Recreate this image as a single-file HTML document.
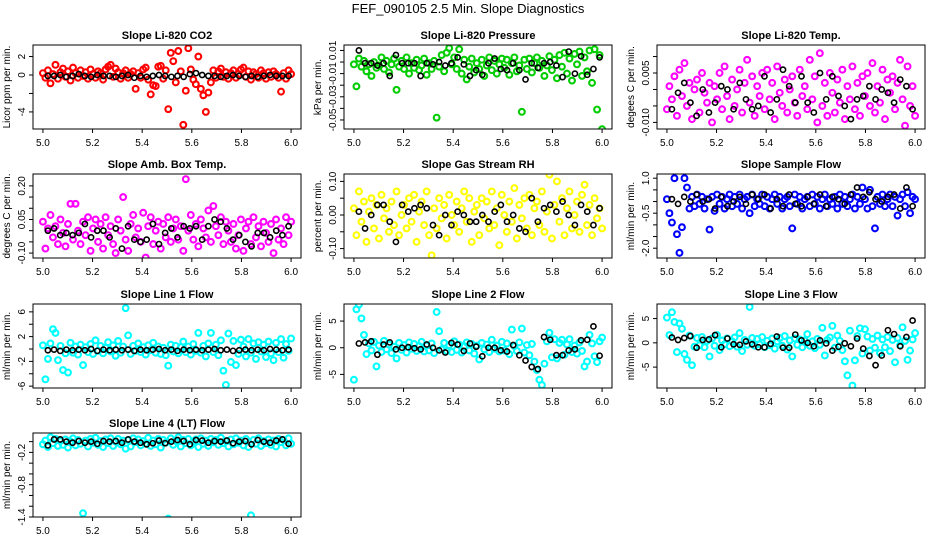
<!DOCTYPE html>
<html><head><meta charset="utf-8"><style>
body{margin:0;background:#fff}
svg{display:block;font-family:"Liberation Sans",sans-serif}
</style></head><body>
<svg id="c" width="936" height="540" viewBox="0 0 936 540">
<rect width="936" height="540" fill="#fff"/>
<text x="468" y="13" text-anchor="middle" font-size="13">FEF_090105  2.5 Min. Slope Diagnostics</text>
</svg>
<script>
const xTicks = [5.0, 5.2, 5.4, 5.6, 5.8, 6.0];
const xTickLabels = ["5.0","5.2","5.4","5.6","5.8","6.0"];

const titles = ["Slope Li-820 CO2","Slope Li-820 Pressure","Slope Li-820 Temp.","Slope Amb. Box Temp.","Slope Gas Stream RH","Slope Sample Flow","Slope Line 1 Flow","Slope Line 2 Flow","Slope Line 3 Flow","Slope Line 4 (LT) Flow"];
const yTitles = ["Licor ppm per min.","kPa per min.","degees C per min.","degrees C per min.","percent per min.","ml/min per min.","ml/min per min.","ml/min per min.","ml/min per min.","ml/min per min."];
const colors = ["#ff0000","#00cd00","#ff00ff","#ff00ff","#ffff00","#0000ff","#00ffff","#00ffff","#00ffff","#00ffff"];
const yLims = [[-5.85,3.25],[-0.0578,0.0147],[-0.012,0.0135],[-0.122,0.253],[-0.128,0.122],[-2.42,1.18],[-6.3,7.27],[-7.55,8.2],[-9.3,8.0],[-1.40,0.16]];
const yTicks = [[-4,-2,0,2],[-0.05,-0.04,-0.03,-0.02,-0.01,0,0.01],[-0.01,-0.005,0,0.005,0.01],[-0.1,-0.05,0,0.05,0.1,0.15,0.2],[-0.1,-0.05,0,0.05,0.1],[-2,-1.5,-1,-0.5,0,0.5,1],[-6,-4,-2,0,2,4,6],[-5,0,5],[-5,0,5],[-1.4,-1.2,-1.0,-0.8,-0.6,-0.4,-0.2,0]];
const yTickLabels = [["-4","","0","2"],["-0.05","","-0.03","","-0.01","","0.01"],["-0.010","","","0.005",""],["-0.10","","","0.05","","","0.20"],["-0.10","","0.00","","0.10"],["-2.0","","","-0.5","","","1.0"],["-6","","-2","","2","","6"],["-5","0","5"],["-5","0","5"],["-1.4","","","-0.8","","","-0.2",""]];

const colored = [
"0.2 -0.3 0.5 -0.9 0.1 1.1 -0.4 0.3 0.7 -0.2 0.4 -0.6 0.8 0.2 -0.3 0.5 -0.1 0.3 -0.4 0.6 0.1 -0.3 0.4 0.2 -0.5 0.6 0.9 1.1 -0.2 0.7 0.3 -0.4 0.2 0.5 -0.3 0.1 0.4 -1.5 0.2 -0.3 0.6 0.8 -0.5 -2.1 -1.1 -1.2 0.9 1.0 -0.4 0.5 -3.7 2.4 1.5 -0.8 2.6 0.4 -5.4 -1.7 2.9 0.6 -0.5 -1.0 2.0 -1.5 -2.2 -4.0 -1.9 -0.8 0.5 -0.3 0.4 0.7 -0.2 0.3 -0.4 0.2 0.5 -0.3 0.1 0.6 0.8 -0.2 0.4 -0.5 0.3 0.1 -0.3 0.5 0.2 -0.4 0.3 -0.2 0.4 0.1 -0.3 -1.8 0.2 -0.4 0.5 0.1",
"-0.002 -0.021 0.003 -0.004 0.001 -0.008 -0.002 -0.012 0.000 -0.005 -0.003 0.004 -0.006 0.001 -0.009 -0.002 0.003 -0.024 -0.004 0.001 -0.006 0.004 -0.010 -0.001 -0.005 0.002 -0.007 -0.003 0.003 -0.011 -0.001 -0.006 0.001 -0.048 -0.004 0.006 -0.008 0.008 0.012 -0.002 0.004 -0.006 0.011 -0.010 0.002 -0.015 -0.004 0.003 -0.009 -0.001 -0.006 0.002 -0.012 -0.003 0.004 -0.007 0.001 -0.010 -0.002 0.003 -0.005 0.002 -0.011 -0.001 0.004 -0.008 -0.003 -0.043 0.002 -0.006 0.003 -0.009 -0.001 0.004 -0.005 0.001 -0.012 -0.003 0.005 -0.007 0.002 -0.014 0.006 -0.004 0.008 -0.010 0.003 -0.016 0.007 -0.002 0.009 -0.012 0.004 -0.008 0.010 -0.018 0.011 -0.041 0.006 -0.058",
"-0.006 0.001 -0.003 0.004 -0.008 0.006 -0.002 0.008 -0.005 0.002 -0.009 0.000 0.003 -0.007 0.005 -0.001 -0.004 0.002 -0.010 0.001 -0.003 0.005 -0.006 0.007 -0.002 -0.009 0.003 -0.005 0.000 0.006 -0.007 0.002 0.009 -0.004 0.004 -0.008 0.001 -0.002 0.005 -0.006 0.006 -0.003 0.002 -0.009 0.007 -0.001 -0.005 0.003 -0.007 0.000 0.004 -0.004 -0.008 0.006 -0.002 0.001 -0.006 0.009 -0.003 0.004 -0.010 0.011 -0.005 0.002 -0.008 0.005 -0.001 -0.007 0.003 -0.004 0.006 -0.009 0.001 -0.003 0.007 -0.006 0.002 -0.008 0.004 -0.002 0.005 -0.005 0.008 -0.007 0.001 -0.004 0.006 -0.009 0.003 -0.001 0.004 -0.006 0.002 0.009 -0.003 -0.011 0.007 -0.005 0.001 -0.008",
"0.04 -0.08 0.01 0.07 -0.03 0.02 -0.06 0.05 -0.01 -0.07 0.03 0.12 -0.04 0.12 0.00 -0.06 0.04 -0.02 0.06 -0.09 0.01 0.05 -0.05 0.03 -0.08 0.06 -0.02 0.02 -0.06 -0.10 0.05 0.00 0.15 -0.04 -0.09 0.03 0.07 -0.03 0.01 -0.05 0.08 -0.12 0.02 0.06 -0.06 0.00 0.04 -0.08 0.03 -0.03 0.06 -0.05 0.01 0.05 -0.04 0.02 -0.09 0.23 0.00 0.07 -0.04 0.03 -0.07 0.05 0.01 -0.03 0.09 -0.05 0.11 0.02 -0.02 0.06 -0.06 0.04 0.00 -0.05 0.03 -0.08 -0.02 0.05 -0.09 0.01 0.04 -0.06 0.06 -0.03 0.02 -0.07 0.04 -0.01 -0.05 0.03 -0.10 0.05 -0.04 0.01 -0.06 0.06 -0.02 0.04",
"0.02 -0.06 0.07 -0.02 0.04 -0.08 0.01 0.05 -0.04 0.03 -0.07 0.06 -0.01 0.02 -0.05 0.04 -0.03 0.07 -0.06 0.00 0.03 -0.04 0.05 -0.02 0.06 -0.08 0.01 0.04 -0.03 0.07 -0.06 -0.12 0.02 -0.04 0.05 -0.01 0.03 -0.07 0.06 0.00 -0.03 0.04 -0.05 0.02 0.07 -0.02 0.05 -0.08 0.01 0.03 -0.06 0.05 -0.01 0.04 -0.04 0.07 -0.03 0.02 -0.09 0.06 0.00 -0.05 0.04 -0.02 0.08 -0.07 0.03 -0.01 0.05 -0.04 0.06 -0.06 0.02 0.04 -0.03 0.07 -0.05 0.01 0.12 -0.07 0.03 0.10 -0.02 0.05 -0.06 0.02 0.07 -0.04 0.00 0.04 -0.05 0.06 0.09 -0.03 0.03 -0.06 0.05 -0.01 0.02 -0.04",
"0.1 -0.5 -0.9 1.0 -1.4 -2.2 -1.1 1.0 0.6 -0.3 0.2 -0.2 0.3 -0.1 0.2 -0.3 0.1 -1.2 0.2 -0.4 0.3 -0.1 0.2 -0.3 0.1 0.3 -0.2 0.2 -0.1 0.3 -0.3 0.1 0.2 -0.5 0.3 -0.2 0.1 -0.1 0.3 -0.2 0.2 -0.3 0.1 0.3 -0.1 0.2 -0.3 0.1 0.2 -0.2 -1.15 0.3 -0.1 0.2 -0.3 0.1 0.2 -0.2 0.3 -0.1 0.2 -0.3 0.1 0.3 -0.2 0.1 -0.1 0.2 -0.3 0.3 -0.1 0.2 -0.2 0.1 0.3 -0.3 0.2 -0.1 0.6 0.1 -0.3 0.5 -0.2 -1.15 0.2 -0.1 0.3 -0.2 0.1 0.3 -0.2 0.2 -0.6 0.1 0.3 -0.2 0.4 -0.5 0.2 0.1",
"0.6 -4.9 -1.6 0.9 3.2 2.6 -1.8 0.5 -3.4 -0.7 -3.8 1.0 -0.6 0.4 -0.9 0.7 -2.6 0.3 -0.5 0.8 -0.8 1.4 -0.3 0.5 -0.7 0.2 1.1 -0.4 0.6 -1.1 1.3 -0.6 0.4 6.6 2.2 -0.8 0.5 -0.3 0.9 -0.5 0.3 -0.9 0.6 -0.2 1.0 -0.6 0.4 -0.8 0.2 -1.0 -2.7 0.7 -0.4 0.5 -0.7 0.3 1.2 -0.5 0.4 -0.9 0.8 -0.3 2.6 -0.6 0.5 -1.2 0.9 2.6 -0.5 0.7 -1.0 1.4 -3.5 -5.8 2.5 -2.1 1.3 -2.6 -0.8 1.5 0.4 -1.2 1.6 -0.6 0.9 -1.6 1.1 -0.4 0.7 -1.3 1.2 -0.7 -1.8 1.0 -0.5 1.6 -1.4 0.8 -0.3 1.7",
"-6.0 7.2 8.1 5.5 2.4 -1.2 0.8 -0.5 1.1 -3.5 0.4 -0.8 1.3 -0.3 0.6 -1.0 0.2 -2.0 0.9 -0.4 0.5 -0.9 1.0 -0.2 0.7 -0.6 0.3 1.1 -0.7 0.4 -0.5 0.8 -1.0 6.7 3.1 -0.3 0.9 -0.6 0.5 -0.8 1.2 -0.4 0.6 -0.9 0.3 1.0 -0.5 0.7 -1.1 0.4 -2.2 0.9 -0.3 0.6 -0.8 1.5 -0.2 0.4 -0.7 1.1 -0.5 0.8 -1.2 3.4 0.3 -0.6 1.0 3.6 -0.9 0.5 -1.4 0.7 -2.6 -4.2 -6.0 -7.0 -3.0 1.2 2.8 -1.8 1.6 -2.0 0.9 1.5 -1.3 0.6 1.6 -0.8 0.4 -1.1 1.0 -0.6 -3.5 -2.6 2.4 0.8 -1.6 -2.7 1.2 1.9",
"5.2 1.6 6.3 4.3 -1.9 4.0 2.9 -2.3 -3.5 1.5 -4.6 -0.8 1.0 -0.5 1.2 -0.9 0.4 -2.8 0.9 -0.6 1.6 -1.5 0.5 -0.3 0.9 -0.7 0.3 1.1 -0.8 2.0 -1.7 0.6 -0.4 7.4 1.0 -0.6 0.8 -0.3 1.2 -0.9 0.4 -0.5 0.9 -1.2 0.3 1.0 -0.6 1.4 -1.4 0.5 -2.8 0.9 -0.4 0.7 -0.9 0.5 1.8 -0.6 0.3 -1.1 0.8 -0.4 3.1 -2.6 0.6 1.1 3.5 -1.0 1.5 0.4 -1.5 -3.8 -6.7 2.5 -8.8 -3.6 1.4 3.0 -2.2 2.8 1.3 -1.6 0.8 -1.0 1.5 -2.1 0.7 -0.9 1.2 -1.7 0.6 -4.0 1.0 -0.5 3.2 0.4 -3.5 -1.6 0.7 2.0",
"-0.05 0.02 -0.10 0.08 -0.03 0.05 -0.08 0.01 -0.06 0.04 -0.11 0.00 0.06 -0.07 0.03 -0.04 -1.33 0.02 -0.09 0.05 -0.02 0.07 -0.06 0.01 -0.10 0.04 -0.03 0.06 -0.08 0.00 0.05 -0.05 0.02 -0.13 0.03 -0.09 0.06 -0.01 0.04 -0.07 0.01 -0.04 0.07 -0.08 0.02 -0.05 0.05 -0.11 0.03 -0.02 -1.43 0.06 -0.06 0.01 0.08 -0.09 0.03 -0.03 0.05 -0.07 0.00 0.04 -0.10 0.06 -0.04 0.02 -0.08 0.05 -0.01 0.03 -0.06 0.07 -0.03 0.01 -0.09 0.04 -0.05 0.06 -0.02 0.02 -0.07 0.05 -0.10 -1.37 0.03 -0.04 0.06 -0.08 0.01 -0.03 0.04 -0.06 0.02 -0.09 0.05 -0.01 0.03 -0.07 0.06 -0.04"
];
const black = [
"-0.1 -0.1 0.0 -0.2 -0.1 0.1 -0.1 -0.2 0.0 -0.1 -0.1 -0.2 -0.1 0.0 -0.3 -0.1 -0.2 -0.1 0.0 -0.1 -0.2 -0.1 -0.2 0.1 0.2 0.0 -0.1 -0.1 -0.2 -0.1 0.0 -0.1 -0.2 -0.1 -0.2 -0.1 0.0 -0.1 -0.1 -0.1",
"0.010 -0.001 -0.001 -0.003 -0.001 -0.012 0.006 -0.001 -0.001 -0.001 -0.012 -0.001 -0.002 0.000 -0.003 -0.001 0.004 -0.002 -0.012 -0.007 -0.011 -0.001 0.003 -0.006 -0.007 -0.001 -0.007 -0.015 -0.001 -0.005 -0.001 0.000 -0.003 -0.013 0.009 -0.010 0.005 -0.011 -0.006 0.004",
"-0.006 -0.001 0.002 -0.004 -0.008 0.000 -0.007 -0.004 0.001 0.000 -0.006 0.002 -0.003 -0.006 -0.005 0.004 -0.007 -0.003 0.006 0.001 -0.004 0.004 -0.004 -0.007 0.005 -0.003 0.004 -0.002 -0.005 -0.009 -0.003 -0.002 0.001 -0.003 0.000 -0.001 -0.004 0.003 0.001 -0.006",
"0.00 0.01 -0.02 -0.01 -0.02 -0.01 0.03 -0.03 0.00 0.00 -0.03 0.01 -0.08 0.02 -0.04 -0.05 -0.04 0.03 -0.06 -0.01 0.01 -0.03 0.02 0.01 0.02 -0.04 0.02 0.05 0.04 0.01 -0.04 -0.02 -0.05 -0.07 -0.01 -0.01 -0.03 0.00 -0.02 0.02",
"0.01 -0.04 0.00 0.03 0.03 -0.02 -0.08 0.03 0.01 0.02 0.03 0.02 -0.03 -0.06 0.00 -0.03 0.01 0.00 -0.02 -0.02 0.00 -0.02 0.01 0.03 -0.02 0.00 -0.04 -0.05 0.05 -0.02 0.02 0.03 0.01 0.04 0.00 -0.03 0.03 0.01 -0.03 0.02",
"0.1 -0.1 0.2 0.0 0.3 0.0 0.1 -0.3 0.2 -0.2 0.0 0.2 -0.1 0.3 0.1 0.3 -0.3 0.1 -0.2 0.3 -0.1 -0.2 0.2 -0.1 0.3 -0.2 0.2 0.1 -0.1 0.3 0.6 0.2 0.4 0.1 0.0 0.2 0.3 -0.3 0.6 -0.2",
"-0.2 -0.1 -0.3 -0.1 -0.2 -0.1 -0.2 0.0 -0.3 -0.1 -0.2 -0.1 -0.2 -0.1 -0.3 -0.1 -0.2 -0.1 0.0 -0.2 -0.1 -0.3 -0.1 -0.2 -0.1 -0.2 -0.1 0.0 -0.2 -0.1 -0.3 -0.2 -0.1 -0.2 -0.1 -0.2 0.0 -0.1 -0.2 -0.1",
"0.8 1.0 1.2 -1.3 0.6 1.0 -0.3 0.0 0.1 -0.1 -0.3 0.6 0.0 -0.5 -0.9 0.9 0.6 -0.6 0.8 0.2 -1.6 0.0 0.0 -0.5 -0.7 0.5 -1.4 -2.4 -3.6 -4.0 2.0 1.5 -1.4 -1.4 -0.5 -0.3 1.4 1.5 4.0 -1.5",
"1.1 0.6 1.0 1.4 -1.0 0.6 0.7 1.6 -0.9 0.9 -0.3 -0.4 0.3 -0.3 -0.9 -0.9 -0.2 1.3 -1.0 -1.0 1.7 0.5 0.0 -0.7 0.5 -0.1 -1.6 -0.8 -0.1 -0.7 0.9 -1.2 -2.7 -4.6 -2.6 2.6 1.8 -0.7 1.2 4.6",
"-0.07 0.04 0.04 0.00 -0.02 0.01 -0.02 0.00 -0.04 0.01 0.00 0.01 -0.02 0.04 0.00 -0.02 -0.05 -0.03 0.02 -0.03 0.00 0.03 0.01 -0.05 0.03 0.02 -0.02 0.01 0.00 0.02 -0.03 0.00 0.01 -0.05 0.03 0.00 -0.02 0.02 0.04 -0.04"
];

const NS = "http://www.w3.org/2000/svg";
const svg = document.getElementById("c");
function mk(tag, attrs, parent){const e=document.createElementNS(NS,tag);for(const k in attrs)e.setAttribute(k,attrs[k]);(parent||svg).appendChild(e);return e;}

const colLeft=[33,344,657], rowTop=[45,174,304,433], W=268, H=84;
for(let p=0;p<10;p++){
  const L=colLeft[p%3], T=rowTop[Math.floor(p/3)];
  const g=mk("g",{});
  
  
  const xs=v=>L+W*(v-4.96)/1.08;
  const [y0,y1]=yLims[p];
  const ys=v=>T+H*(y1-v)/(y1-y0);
  const cp=mk("clipPath",{id:"cp"+p},g); mk("rect",{x:L,y:T,width:W,height:H},cp);
  const pts=mk("g",{"clip-path":"url(#cp"+p+")"},g);
  const cv=colored[p].trim().split(/\s+/).map(Number);
  cv.forEach((v,i)=>{
    const c=mk("circle",{cx:xs(5+i/(cv.length-1)),cy:ys(v),r:2.9,fill:"none",stroke:colors[p],"stroke-width":2.1},pts);
    
    
  });
  const bv=black[p].trim().split(/\s+/).map(Number);
  bv.forEach((v,i)=>{
    const c=mk("circle",{cx:xs(5.02+0.97*i/(bv.length-1)),cy:ys(v),r:2.6,fill:"none",stroke:"#000","stroke-width":1.6},pts);
    
    
  });
  const box=mk("rect",{x:L,y:T,width:W,height:H,fill:"none",stroke:"#000","stroke-width":1},g);
  
  
  const t=mk("text",{x:L+W/2,y:T-6,"text-anchor":"middle","font-size":11,"font-weight":"bold"},g);
  t.textContent=titles[p];
  
  
  mk("line",{x1:xs(5),x2:xs(6),y1:T+H,y2:T+H,stroke:"#000"},g);
  xTicks.forEach((v,i)=>{
    mk("line",{x1:xs(v),x2:xs(v),y1:T+H,y2:T+H+4,stroke:"#000"},g);
    const tl=mk("text",{x:xs(v),y:T+H+17,"text-anchor":"middle","font-size":10},g);
    tl.textContent=xTickLabels[i];
    
    
  });
  yTicks[p].forEach((v,i)=>{
    const y=ys(v);
    mk("line",{x1:L-4,x2:L,y1:y,y2:y,stroke:"#000"},g);
    const lab=yTickLabels[p][i];
    if(lab){
      const tl=mk("text",{x:L-8,y:y,"text-anchor":"middle","font-size":10,transform:"rotate(-90 "+(L-8)+" "+y+")"},g);
      tl.textContent=lab;
      
      
    }
  });
  const cy=T+H/2;
  const yl=mk("text",{x:L-23,y:cy,"text-anchor":"middle","font-size":10,transform:"rotate(-90 "+(L-23)+" "+cy+")"},g);
  yl.textContent=yTitles[p];
  
  
}
</script>
</body></html>
